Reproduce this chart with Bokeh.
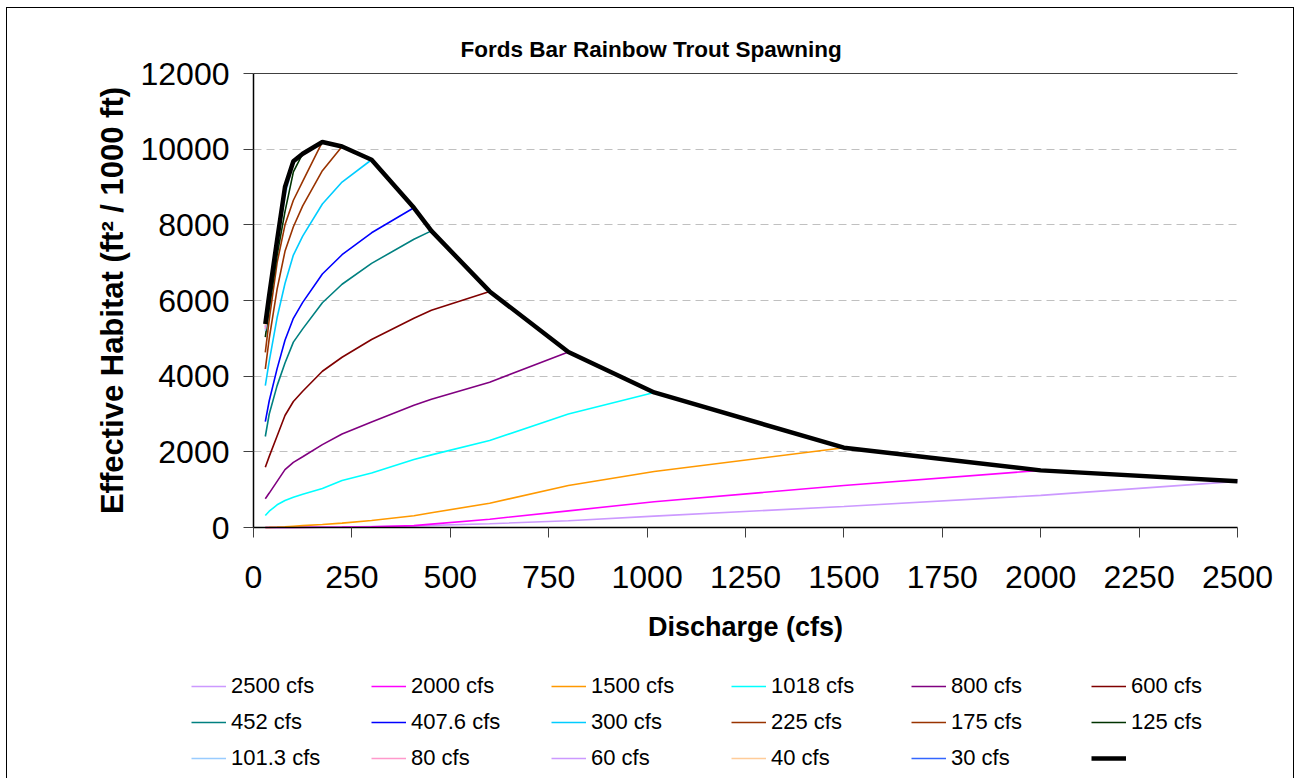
from bokeh.plotting import figure
from bokeh.models import Range1d, FixedTicker, Legend, LegendItem, Grid, Label
from bokeh.embed import file_html
from bokeh.resources import INLINE

# ---------------- data ----------------
FLOWS = [30, 40, 60, 80, 101.3, 125, 175, 225, 300, 407.6, 452, 600, 800, 1018, 1500, 2000, 2500]

H_2500 = [0, 0, 0, 0, 2, 5, 10, 15, 25, 40, 55, 100, 180, 300, 555, 850, 1220]
H_2000 = [0, 0, 0, 0, 1, 2, 5, 10, 20, 50, 90, 220, 440, 680, 1110, 1510]
H_1500 = [0, 2, 10, 20, 35, 50, 80, 115, 185, 310, 390, 640, 1110, 1480, 2110]
H_1018 = [317, 430, 600, 714, 800, 880, 1030, 1240, 1440, 1800, 1920, 2300, 3000, 3570]
H_800 = [760, 910, 1220, 1530, 1720, 1870, 2190, 2470, 2790, 3230, 3390, 3840, 4640]
H_600 = [1594, 1880, 2420, 2960, 3330, 3600, 4130, 4500, 4970, 5530, 5740, 6240]
H_452 = [2405, 3000, 3750, 4350, 4900, 5250, 5940, 6430, 6980, 7620, 7840]
H_407_6 = [2800, 3350, 4200, 4950, 5530, 5950, 6700, 7210, 7790, 8450]
H_300 = [3750, 4400, 5550, 6450, 7200, 7700, 8550, 9130, 9720]
H_225 = [4190, 5000, 6300, 7300, 7950, 8500, 9430, 10070]
H_175 = [4630, 5500, 7000, 8000, 8650, 9150, 10190]
H_125 = [5030, 5800, 7200, 8350, 9400, 9880]
H_101_3 = [5200, 6000, 7450, 8750, 9680]
H_80 = [5250, 6080, 7550, 9000]
H_60 = [5300, 6120, 7600]
H_40 = [5340, 6150]
H_30 = [5380]
ENVELOPE = [5380, 6150, 7600, 9000, 9680, 9880, 10190, 10070, 9720, 8450, 7840,
            6240, 4640, 3570, 2110, 1510, 1220]

SERIES = [H_2500, H_2000, H_1500, H_1018, H_800, H_600, H_452, H_407_6, H_300,
          H_225, H_175, H_125, H_101_3, H_80, H_60, H_40, H_30]
LABELS = ["2500 cfs", "2000 cfs", "1500 cfs", "1018 cfs", "800 cfs", "600 cfs",
          "452 cfs", "407.6 cfs", "300 cfs", "225 cfs", "175 cfs", "125 cfs",
          "101.3 cfs", "80 cfs", "60 cfs", "40 cfs", "30 cfs"]
COLORS = ["#CC99FF", "#FF00FF", "#FF9900", "#00FFFF", "#800080", "#800000",
          "#008080", "#0000FF", "#00CCFF", "#993300", "#993300", "#003300",
          "#99CCFF", "#FF99CC", "#CC99FF", "#FFCC99", "#3366FF"]

X_TICKS = [0, 250, 500, 750, 1000, 1250, 1500, 1750, 2000, 2250, 2500]
Y_TICKS = [0, 2000, 4000, 6000, 8000, 10000, 12000]

TITLE = "Fords Bar Rainbow Trout Spawning"
X_LABEL = "Discharge (cfs)"
Y_LABEL = "Effective Habitat (ft\u00b2 / 1000 ft)"

FONT = "Liberation Sans"

# ---------------- layout (pixels) ----------------
W, H = 1286, 770            # canvas size
PLOT_L, PLOT_R = 246, 1230  # data area inside the canvas (x)
PLOT_T, PLOT_B = 65, 519    # data area inside the canvas (y)

XMAX, YMAX = X_TICKS[-1], Y_TICKS[-1]
xs = XMAX / (PLOT_R - PLOT_L)
ys = YMAX / (PLOT_B - PLOT_T)
x_range = Range1d(-PLOT_L * xs, XMAX + (W - PLOT_R) * xs)
y_range = Range1d(-(H - PLOT_B) * ys, YMAX + PLOT_T * ys)

p = figure(width=W, height=H, x_range=x_range, y_range=y_range,
           output_backend="svg", toolbar_location=None,
           min_border_left=0, min_border_right=0,
           min_border_top=0, min_border_bottom=0)

p.styles = {"margin-left": "7px", "margin-top": "8px",
            "outline": "1px solid black", "outline-offset": "0px"}
p.outline_line_color = None
p.background_fill_color = "white"
p.border_fill_color = "white"

p.add_layout(Label(x=453, y=H - 41, x_units="screen", y_units="screen", text=TITLE,
                   text_font=FONT, text_font_style="bold", text_font_size="22.5px",
                   text_color="black", text_align="left", text_baseline="middle"))

# grid lines (dashed) and the solid top line, limited to the data area
p.xgrid.visible = False
p.ygrid.visible = False
has_cross = "cross_bounds" in Grid.properties()
if has_cross:
    g = Grid(dimension=1, ticker=FixedTicker(ticks=Y_TICKS[1:-1]),
             grid_line_color="#C0C0C0", grid_line_dash="8 5", cross_bounds=(0, XMAX))
    g_top = Grid(dimension=1, ticker=FixedTicker(ticks=[YMAX]),
                 grid_line_color="#404040", grid_line_width=1, cross_bounds=(0, XMAX))
    p.add_layout(g)
    p.add_layout(g_top)
else:
    gy = Y_TICKS[1:-1]
    p.segment(x0=[X_TICKS[0]] * len(gy), x1=[XMAX] * len(gy), y0=gy, y1=gy,
              line_color="#C0C0C0", line_dash="8 5", line_width=1)
    p.segment(x0=[X_TICKS[0]], x1=[XMAX], y0=[YMAX], y1=[YMAX],
              line_color="#404040", line_width=1)

for ax in (p.xaxis[0], p.yaxis[0]):
    ax.fixed_location = 0
    ax.axis_line_color = "black"
    ax.axis_line_width = 1.5
    ax.major_tick_line_color = "#404040"
    ax.minor_tick_line_color = None
    ax.major_tick_in = 0
    ax.major_tick_out = 10
    ax.major_label_text_font = FONT
    ax.major_label_text_font_size = "32px"
    ax.major_label_text_color = "black"
    ax.axis_label_text_font = FONT
    ax.axis_label_text_font_style = "bold"
    ax.axis_label_text_color = "black"

p.xaxis.axis_label_text_font_size = "27px"
p.yaxis.axis_label_text_font_size = "31px"
p.xaxis.bounds = (0, XMAX)
p.yaxis.bounds = (0, YMAX)
p.xaxis.ticker = FixedTicker(ticks=X_TICKS)
p.yaxis.ticker = FixedTicker(ticks=Y_TICKS)
p.xaxis.axis_label = X_LABEL
p.yaxis.axis_label = Y_LABEL
p.xaxis.major_label_standoff = 28
p.xaxis.axis_label_standoff = 21
p.yaxis.major_label_standoff = 14
p.yaxis.axis_label_standoff = 8

items = []
for vals, lab, col in zip(SERIES, LABELS, COLORS):
    r = p.line(FLOWS[:len(vals)], vals, line_color=col, line_width=1.6)
    items.append(LegendItem(label=lab, renderers=[r]))
rb = p.line(FLOWS, ENVELOPE, line_color="black", line_width=4.5)
items.append(LegendItem(label=" ", renderers=[rb]))

legend = Legend(items=items, location=(184, 3), orientation="horizontal", ncols=6,
                glyph_width=35, glyph_height=20, label_standoff=5,
                label_width=139, label_height=35, spacing=1,
                padding=0, margin=0, border_line_color=None,
                background_fill_alpha=0,
                label_text_font=FONT, label_text_font_size="22px",
                label_text_color="black")
p.add_layout(legend)

open("out.html", "w").write(file_html(p, INLINE))
